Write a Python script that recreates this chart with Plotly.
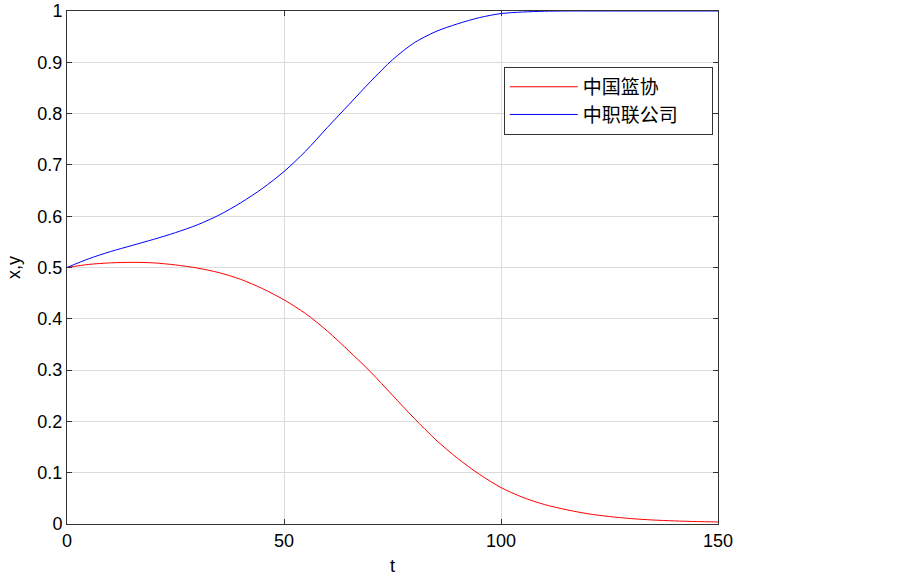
import plotly.graph_objects as go

# time steps
t = [0, 5, 10, 15, 20, 25, 30, 35, 40, 45, 50, 55, 60, 65, 70, 75,
     80, 85, 90, 95, 100, 105, 110, 115, 120, 125, 130, 135, 140, 145, 150]

# 中国篮协
x_vals = [0.500, 0.506, 0.509, 0.510, 0.509, 0.505, 0.499, 0.490, 0.477, 0.459,
          0.437, 0.410, 0.376, 0.337, 0.296, 0.251, 0.206, 0.164, 0.128, 0.097,
          0.071, 0.052, 0.038, 0.028, 0.020, 0.0145, 0.0105, 0.0078, 0.006, 0.0048, 0.004]

# 中职联公司
y_vals = [0.500, 0.517, 0.531, 0.543, 0.555, 0.568, 0.583, 0.602, 0.626, 0.654,
          0.687, 0.727, 0.773, 0.818, 0.863, 0.905, 0.938, 0.960, 0.975, 0.987,
          0.995, 0.998, 0.9995, 1.0, 1.0, 1.0, 1.0, 1.0, 1.0, 1.0, 1.0]

names = ["中国篮协", "中职联公司\u3000\u2002"]

fig = go.Figure()
fig.add_trace(go.Scatter(x=t, y=x_vals, mode="lines", name=names[0],
                         line=dict(color="#ff0000", width=1, shape="spline", smoothing=0.8)))
fig.add_trace(go.Scatter(x=t, y=y_vals, mode="lines", name=names[1],
                         line=dict(color="#0000ff", width=1, shape="spline", smoothing=0.8)))

axis_common = dict(
    automargin=False,
    showline=True,
    linecolor="#333333",
    linewidth=1,
    mirror="ticks",
    ticks="inside",
    ticklen=5,
    tickcolor="#333333",
    showgrid=True,
    gridcolor="#dcdcdc",
    gridwidth=1,
    zeroline=False,
    tickfont=dict(family="Liberation Sans, Arial", size=18, color="#000000"),
)

fig.update_layout(
    width=903,
    height=576,
    margin=dict(l=67, r=185, t=11, b=52),
    paper_bgcolor="white",
    plot_bgcolor="white",
    font=dict(family="Liberation Sans, Arial", color="#000000"),
    xaxis=dict(range=[0, 150], tickvals=[0, 50, 100, 150],
               title=dict(text="t", font=dict(size=18), standoff=9), **axis_common),
    yaxis=dict(range=[0, 1], dtick=0.1, tickformat="~g",
               title=dict(text="x,y", font=dict(size=18), standoff=12), **axis_common),
    legend=dict(
        x=0.671, y=0.891, xanchor="left", yanchor="top",
        bgcolor="white", bordercolor="#333333", borderwidth=1,
        font=dict(family="Noto Sans CJK SC", size=19, color="#000000"),
        itemwidth=68,
        tracegroupgap=0,
    ),
    showlegend=True,
)

# drop the page's default body margin so the figure sits at the top-left corner
fig.write_html("out.html", config={"displayModeBar": False},
               post_script="document.body.style.margin='0';")
